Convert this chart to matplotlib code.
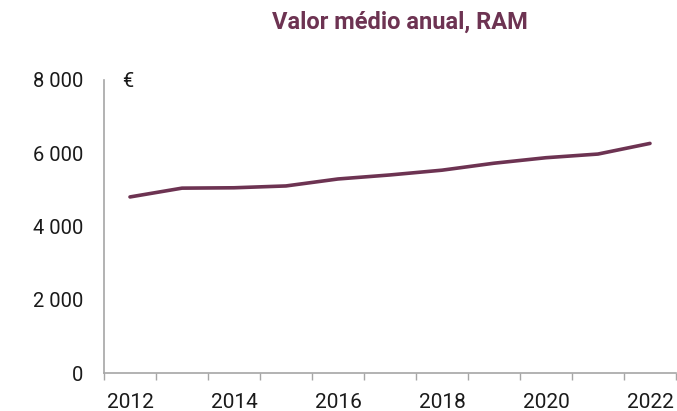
import matplotlib
matplotlib.use("Agg")
import matplotlib.pyplot as plt
import numpy as np

# average annual value, RAM (euros)
years = [2012, 2013, 2014, 2015, 2016, 2017, 2018, 2019, 2020, 2021, 2022]
values = [4810, 5050, 5060, 5110, 5300, 5410, 5540, 5730, 5880, 5980, 6270]
y_ticks = [0, 2000, 4000, 6000, 8000]

plt.rcParams['font.family'] = ['Roboto', 'DejaVu Sans']

line_color = '#6d3352'
axis_color = '#a6a6a6'

fig = plt.figure(figsize=(6.77, 4.11), dpi=100)
ax = fig.add_axes([0.1536, 0.0917, 0.8449, 0.7137])

x = np.arange(len(years))
ax.plot(x, values, color=line_color, linewidth=2.6, solid_capstyle='round')

ax.set_xlim(-0.5, len(years) - 0.5)
ax.set_ylim(0, 8000)

# category style axis: ticks between years, labels every other year
ax.set_xticks(np.arange(-0.5, len(years), 1.0), minor=True)
ax.set_xticks(x[::2])
ax.set_xticklabels([str(y) for y in years[::2]], fontsize=15, color='#1a1a1a')
ax.tick_params(axis='x', which='major', length=0, pad=14)
ax.tick_params(axis='x', which='minor', length=5, color=axis_color, width=1)

ax.set_yticks(y_ticks)
ax.set_yticklabels([f"{v:,}".replace(",", " ") for v in y_ticks], fontsize=14.5, color='#1a1a1a')
ax.tick_params(axis='y', length=0, pad=15)

for s in ['top', 'right']:
    ax.spines[s].set_visible(False)
for s in ['left', 'bottom']:
    ax.spines[s].set_color(axis_color)
    ax.spines[s].set_linewidth(1.2)

ax.text(-0.05, 7950, '€', fontsize=14.5, color='#1a1a1a', ha='center', va='center')

fig.text(0.591, 0.947, 'Valor médio anual, RAM', fontsize=17, fontweight='bold',
         color=line_color, ha='center', va='center')

fig.savefig('out.png', dpi=100)
